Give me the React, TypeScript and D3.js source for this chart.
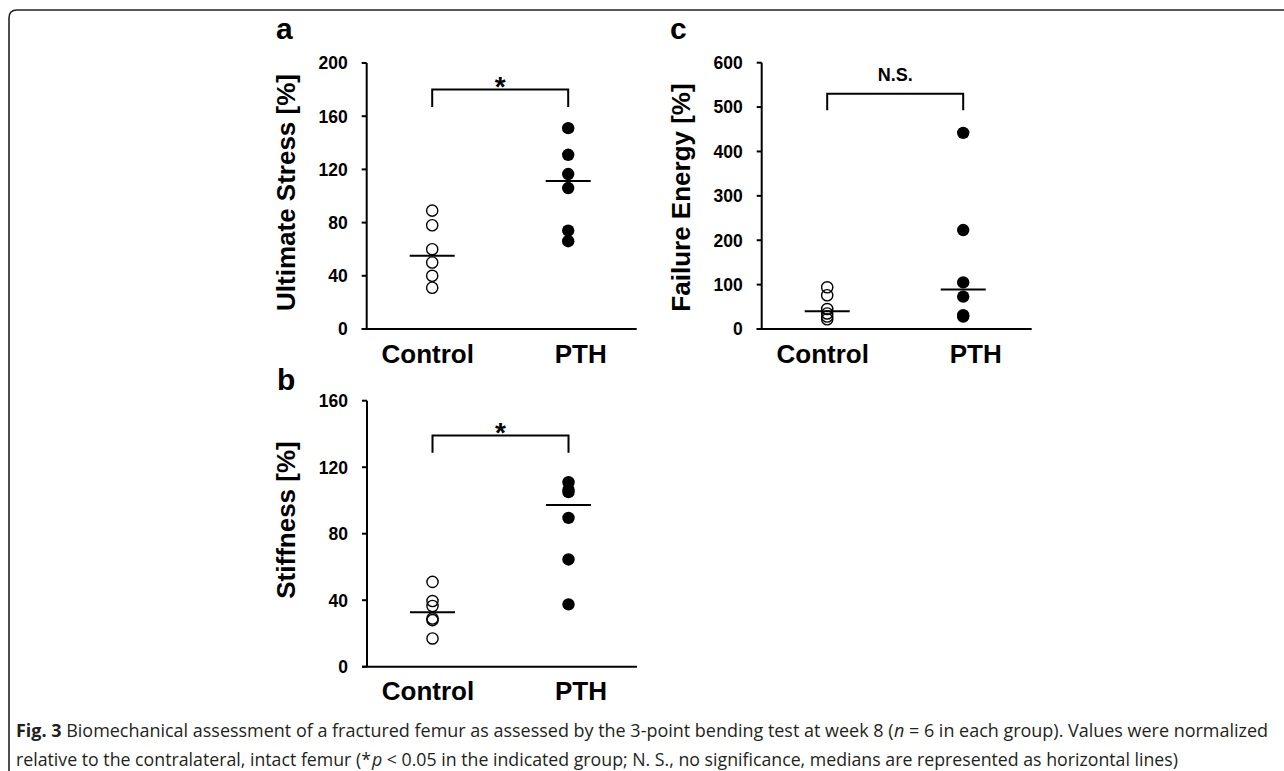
import React from "react";
import * as d3 from "d3";

const categories = ["Control", "PTH"];

const stressControl = [89, 78, 60, 50, 40, 31];
const stressPTH = [151, 131, 116.5, 106, 74, 66];
const stressTicks = [0, 40, 80, 120, 160, 200];

const stiffControl = [51, 39.5, 36.5, 29, 28, 17];
const stiffPTH = [111, 106.5, 105, 89.5, 64.5, 37.5];
const stiffTicks = [0, 40, 80, 120, 160];

const energyControl = [94, 76, 45, 35, 28, 22];
const energyPTH = [442, 223, 105, 73, 31, 28];
const energyTicks = [0, 100, 200, 300, 400, 500, 600];

const captionLine1Bold = "Fig. 3";
const captionLine1 = [
  { t: " Biomechanical assessment of a fractured femur as assessed by the 3-point bending test at week 8 (", i: false },
  { t: "n", i: true },
  { t: " = 6 in each group). Values were normalized", i: false },
];
const captionLine2 = [
  { t: "relative to the contralateral, intact femur (*", i: false },
  { t: "p", i: true },
  { t: " < 0.05 in the indicated group; N. S., no significance, medians are represented as horizontal lines)", i: false },
];

const FONT = "'Liberation Sans', Arial, Helvetica, sans-serif";

type PanelProps = {
  axisX: number;
  yTop: number;
  yBottom: number;
  ticks: number[];
  control: number[];
  pth: number[];
  ylabel: string;
  ylabelY: number;
  letter: string;
  letterX: number;
  letterY: number;
  sig: string;
  sigSize: number;
  sigDy: number;
  bracketTop: number;
  bracketLeg: number;
};

function Panel(p: PanelProps) {
  const max = p.ticks[p.ticks.length - 1];
  const y = d3.scaleLinear().domain([0, max]).range([p.yBottom, p.yTop]);
  const x = d3
    .scalePoint<string>()
    .domain(categories)
    .range([p.axisX + 65.5, p.axisX + 201.5]);
  const xl = d3
    .scalePoint<string>()
    .domain(categories)
    .range([p.axisX + 61, p.axisX + 214]);
  const groups = [
    { cat: "Control", vals: p.control, filled: false },
    { cat: "PTH", vals: p.pth, filled: true },
  ];
  const x0 = x("Control") as number;
  const x1 = x("PTH") as number;
  const yb = y(p.bracketTop);
  const yl = y(p.bracketLeg);
  return (
    <g>
      <text
        x={p.letterX}
        y={p.letterY}
        fontFamily={FONT}
        fontWeight="bold"
        fontSize={30}
      >
        {p.letter}
      </text>
      <line x1={p.axisX} x2={p.axisX} y1={p.yTop} y2={p.yBottom} stroke="#000" strokeWidth={2} />
      {p.ticks.map((t) => (
        <g key={t}>
          <line x1={p.axisX - 5} x2={p.axisX} y1={y(t)} y2={y(t)} stroke="#000" strokeWidth={2} />
          <text
            x={p.axisX - 19}
            y={y(t)}
            dy="0.36em"
            textAnchor="end"
            fontFamily={FONT}
            fontWeight="bold"
            fontSize={17.5}
          >
            {t}
          </text>
        </g>
      ))}
      <line x1={p.axisX - 5} x2={p.axisX + 270} y1={p.yBottom} y2={p.yBottom} stroke="#000" strokeWidth={2} />
      {categories.map((c) => (
        <text
          key={c}
          x={xl(c)}
          y={p.yBottom + 33.5}
          textAnchor="middle"
          fontFamily={FONT}
          fontWeight="bold"
          fontSize={26}
        >
          {c}
        </text>
      ))}
      <text
        transform={`translate(${p.axisX - 72},${p.ylabelY}) rotate(-90)`}
        textAnchor="middle"
        fontFamily={FONT}
        fontWeight="bold"
        fontSize={26}
      >
        {p.ylabel}
      </text>
      <path
        d={`M${x0},${yl}V${yb}H${x1}V${yl}`}
        fill="none"
        stroke="#000"
        strokeWidth={2}
      />
      <text
        x={(x0 + x1) / 2}
        y={yb + p.sigDy}
        textAnchor="middle"
        fontFamily={FONT}
        fontWeight="bold"
        fontSize={p.sigSize}
      >
        {p.sig}
      </text>
      {groups.map((g) => (
        <g key={g.cat}>
          {g.vals.map((v, i) => (
            <circle
              key={i}
              cx={x(g.cat)}
              cy={y(v)}
              r={g.filled ? 6.2 : 5.6}
              fill={g.filled ? "#000" : "none"}
              stroke="#000"
              strokeWidth={g.filled ? 0 : 1.4}
            />
          ))}
          <line
            x1={(x(g.cat) as number) - 22.5}
            x2={(x(g.cat) as number) + 22.5}
            y1={y(d3.median(g.vals) as number)}
            y2={y(d3.median(g.vals) as number)}
            stroke="#000"
            strokeWidth={2}
          />
        </g>
      ))}
    </g>
  );
}

export default function App() {
  return (
    <svg
      width={1284}
      height={771}
      style={{ position: "absolute", left: 0, top: 0, background: "#fff" }}
    >
      <rect width={1284} height={771} fill="#fff" />
      <path d="M9,780V18Q9,10 17,10H1290" fill="none" stroke="#222" strokeWidth={1.6} />
      <Panel
        axisX={366.7}
        yTop={63}
        yBottom={329}
        ticks={stressTicks}
        control={stressControl}
        pth={stressPTH}
        ylabel="Ultimate Stress [%]"
        ylabelY={192.5}
        letter="a"
        letterX={276}
        letterY={39}
        sig="*"
        sigSize={28}
        sigDy={6}
        bracketTop={180}
        bracketLeg={167}
      />
      <Panel
        axisX={367}
        yTop={400.7}
        yBottom={666.7}
        ticks={stiffTicks}
        control={stiffControl}
        pth={stiffPTH}
        ylabel="Stiffness [%]"
        ylabelY={520}
        letter="b"
        letterX={277}
        letterY={390}
        sig="*"
        sigSize={28}
        sigDy={6}
        bracketTop={139}
        bracketLeg={128.7}
      />
      <Panel
        axisX={761.7}
        yTop={62.7}
        yBottom={329}
        ticks={energyTicks}
        control={energyControl}
        pth={energyPTH}
        ylabel="Failure Energy [%]"
        ylabelY={197.5}
        letter="c"
        letterX={670}
        letterY={39}
        sig="N.S."
        sigSize={18}
        sigDy={-13}
        bracketTop={530}
        bracketLeg={493}
      />
      <text
        x={16}
        y={737}
        fontFamily="'Open Sans', 'Noto Sans', sans-serif"
        fontSize={18}
        fill="#231f20"
        textLength={1252}
        lengthAdjust="spacingAndGlyphs"
      >
        <tspan fontWeight="bold">{captionLine1Bold}</tspan>
        {captionLine1.map((s, i) => (
          <tspan key={i} fontStyle={s.i ? "italic" : "normal"} dx={s.i ? 0.5 : 0}>
            {s.t}
          </tspan>
        ))}
      </text>
      <text
        x={16}
        y={766}
        fontFamily="'Open Sans', 'Noto Sans', sans-serif"
        fontSize={18}
        fill="#231f20"
        textLength={1162}
        lengthAdjust="spacingAndGlyphs"
      >
        {captionLine2.map((s, i) => (
          <tspan key={i} fontStyle={s.i ? "italic" : "normal"} dx={s.i ? 1 : 0}>
            {s.t}
          </tspan>
        ))}
      </text>
    </svg>
  );
}
